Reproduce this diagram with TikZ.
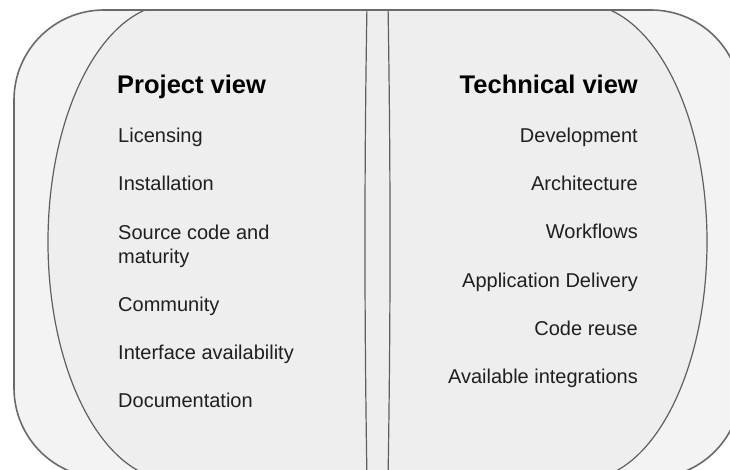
\documentclass[tikz,border=0pt]{standalone}
\usepackage{fontspec}
\setmainfont{Liberation Sans}
\definecolor{outerfill}{HTML}{F3F3F3}
\definecolor{innerfill}{HTML}{EEEEEE}
\definecolor{edge}{HTML}{5F5F5F}
\definecolor{outeredge}{HTML}{6A6A6A}
\definecolor{txt}{HTML}{1F1F1F}
\tikzset{
  x=1pt, y=1pt,
  viewfill/.style={fill=innerfill},
  viewedge/.style={draw=edge, line width=1.2pt},
  title/.style={inner sep=0pt, font=\fontsize{25.5}{30}\selectfont\bfseries, text=black},
  itemL/.style={inner sep=0pt, anchor=base west, align=left, font=\fontsize{20}{24}\selectfont, text=txt},
  itemR/.style={inner sep=0pt, anchor=base east, align=right, font=\fontsize{20}{24}\selectfont, text=txt},
}
\begin{document}
\begin{tikzpicture}
\useasboundingbox (0,0) rectangle (730,-470);
\clip (0,0) rectangle (730,-470);
% outer rounded frame
\fill[outerfill, rounded corners=90pt] (14,-10) rectangle (741,-478);
\begin{scope}
  \clip[rounded corners=90pt] (14,-10) rectangle (741,-478);
  % fills
  \path[viewfill] (173,-4) arc[start angle=90, end angle=270, x radius=125pt, y radius=238pt]
     -- (388,-480) .. controls (390.7,-320) and (390.7,-164) .. (388,-4) -- cycle;
  \path[viewfill] (582,-4) arc[start angle=90, end angle=-90, x radius=125pt, y radius=238pt]
     -- (367,-480) .. controls (364.3,-320) and (364.3,-164) .. (367,-4) -- cycle;
  % outlines
  \path[viewedge] (173,-4) arc[start angle=90, end angle=270, x radius=125pt, y radius=238pt]
     -- (388,-480) .. controls (390.7,-320) and (390.7,-164) .. (388,-4) -- cycle;
  \path[viewedge] (582,-4) arc[start angle=90, end angle=-90, x radius=125pt, y radius=238pt]
     -- (367,-480) .. controls (364.3,-320) and (364.3,-164) .. (367,-4) -- cycle;
\end{scope}
\draw[outeredge, line width=1.6pt, rounded corners=90pt] (14,-10) rectangle (741,-478);

% left column
\node[title, anchor=base west] (pv) at (117,-94) {Project view};
\node[itemL] (lic) at (118,-143) {Licensing};
\node[itemL] (ins) at (118,-191) {Installation};
\node[itemL] (src) at (118,-263) {Source code and\\maturity};
\node[itemL] (com) at (118,-311) {Community};
\node[itemL] (ifa) at (118,-359) {Interface availability};
\node[itemL] (doc) at (118,-407) {Documentation};

% right column
\node[title, anchor=base east] (tv) at (638,-94) {Technical view};
\node[itemR] (dev) at (638,-143) {Development};
\node[itemR] (arc) at (638,-191) {Architecture};
\node[itemR] (wf) at (638,-239) {Workflows};
\node[itemR] (ad) at (638,-287) {Application Delivery};
\node[itemR] (cr) at (638,-335) {Code reuse};
\node[itemR] (ai) at (638,-383) {Available integrations};
\end{tikzpicture}
\end{document}
